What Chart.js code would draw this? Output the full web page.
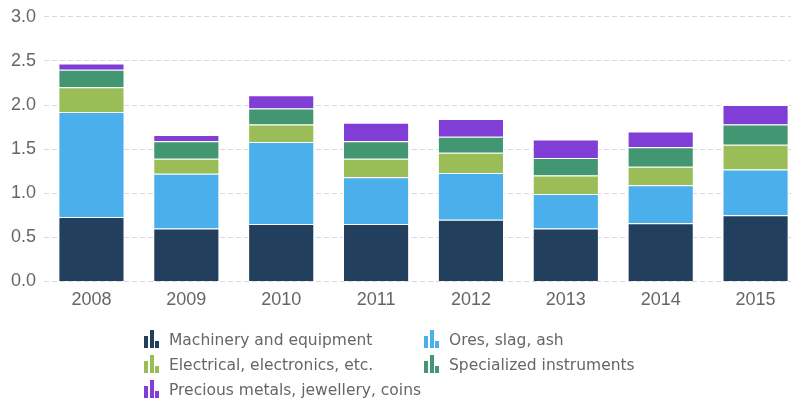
<!DOCTYPE html>
<html>
<head>
<meta charset="utf-8">
<script src="https://cdn.jsdelivr.net/npm/chart.js@4"></script>
<style>
    html, body { margin: 0; padding: 0; background: #fff; overflow: hidden; }
    body { width: 791px; height: 403px; position: relative; }
    #wrap { position: absolute; left: 0; top: -2px; width: 803px; height: 333px; }
    .legend-text {
        position: absolute; height: 25px; line-height: 25px;
        font-family: "DejaVu Sans", sans-serif; font-size: 15.5px; color: #666; white-space: nowrap;
    }
    .icon { position: absolute; display: flex; align-items: flex-end; height: 18px; }
    .icon span { display: block; }
</style>
</head>
<body>
<div id="wrap"><canvas id="myChart"></canvas></div>
<div id="legend"></div>
<script>
const years = ['2008', '2009', '2010', '2011', '2012', '2013', '2014', '2015']
const machinery = [0.73, 0.60, 0.65, 0.65, 0.70, 0.60, 0.66, 0.75]
const ores = [1.19, 0.62, 0.93, 0.53, 0.53, 0.39, 0.43, 0.52]
const electrical = [0.28, 0.17, 0.20, 0.21, 0.23, 0.21, 0.21, 0.28]
const specialized = [0.20, 0.20, 0.18, 0.20, 0.18, 0.20, 0.22, 0.23]
const precious = [0.07, 0.07, 0.15, 0.21, 0.20, 0.21, 0.18, 0.22]
const yTicks = [0, 0.5, 1.0, 1.5, 2.0, 2.5, 3.0]

const series = [
    { label: 'Machinery and equipment', data: machinery, color: '#233f5e' },
    { label: 'Ores, slag, ash', data: ores, color: '#4aafeb' },
    { label: 'Electrical, electronics, etc.', data: electrical, color: '#9abd57' },
    { label: 'Specialized instruments', data: specialized, color: '#429672' },
    { label: 'Precious metals, jewellery, coins', data: precious, color: '#803ed6' }
]

// legend in two columns: [icon x, text x, row top]
const legendPos = [[144, 169, 328], [424, 449, 328], [144, 169, 353], [424, 449, 353], [144, 169, 378]]
const legend = document.getElementById('legend')
series.forEach((s, i) => {
    const [ix, tx, top] = legendPos[i]
    const icon = document.createElement('div')
    icon.className = 'icon'
    icon.style.left = ix + 'px'
    icon.style.top = (top + 2) + 'px'
    // little bar-chart glyph: [width, height, gap after]
    ;[[4, 12, 2], [4, 18, 1], [4, 7, 0]].forEach(([w, h, g]) => {
        const b = document.createElement('span')
        b.style.width = w + 'px'
        b.style.height = h + 'px'
        b.style.marginRight = g + 'px'
        b.style.background = s.color
        icon.appendChild(b)
    })
    const text = document.createElement('div')
    text.className = 'legend-text'
    text.style.left = tx + 'px'
    text.style.top = top + 'px'
    text.textContent = s.label
    legend.appendChild(icon)
    legend.appendChild(text)
})

const ctx = document.getElementById('myChart')
new Chart(ctx, {
    type: 'bar',
    data: {
        labels: years,
        datasets: series.map(s => ({
            label: s.label,
            data: s.data,
            backgroundColor: s.color,
            borderColor: '#ffffff',
            borderWidth: 1,
            barPercentage: 0.697,
            categoryPercentage: 1.0
        }))
    },
    options: {
        responsive: true,
        maintainAspectRatio: false,
        animation: false,
        layout: { padding: { left: 3, right: 0, top: 12, bottom: 12 } },
        plugins: { legend: { display: false }, tooltip: { enabled: false } },
        scales: {
            x: {
                stacked: true,
                grid: { display: false, drawTicks: false },
                border: { display: false },
                ticks: { color: '#666', padding: 8, font: { family: 'Liberation Sans', size: 18 } }
            },
            y: {
                stacked: true,
                min: 0,
                max: 3,
                afterBuildTicks: axis => { axis.ticks = yTicks.map(v => ({ value: v })) },
                grid: { color: '#d9d9d9', lineWidth: 1, drawTicks: false },
                border: { display: false, dash: [5, 3] },
                ticks: {
                    color: '#666', padding: 8,
                    font: { family: 'Liberation Sans', size: 18 },
                    callback: v => v.toFixed(1)
                }
            }
        }
    }
})
</script>
</body>
</html>
